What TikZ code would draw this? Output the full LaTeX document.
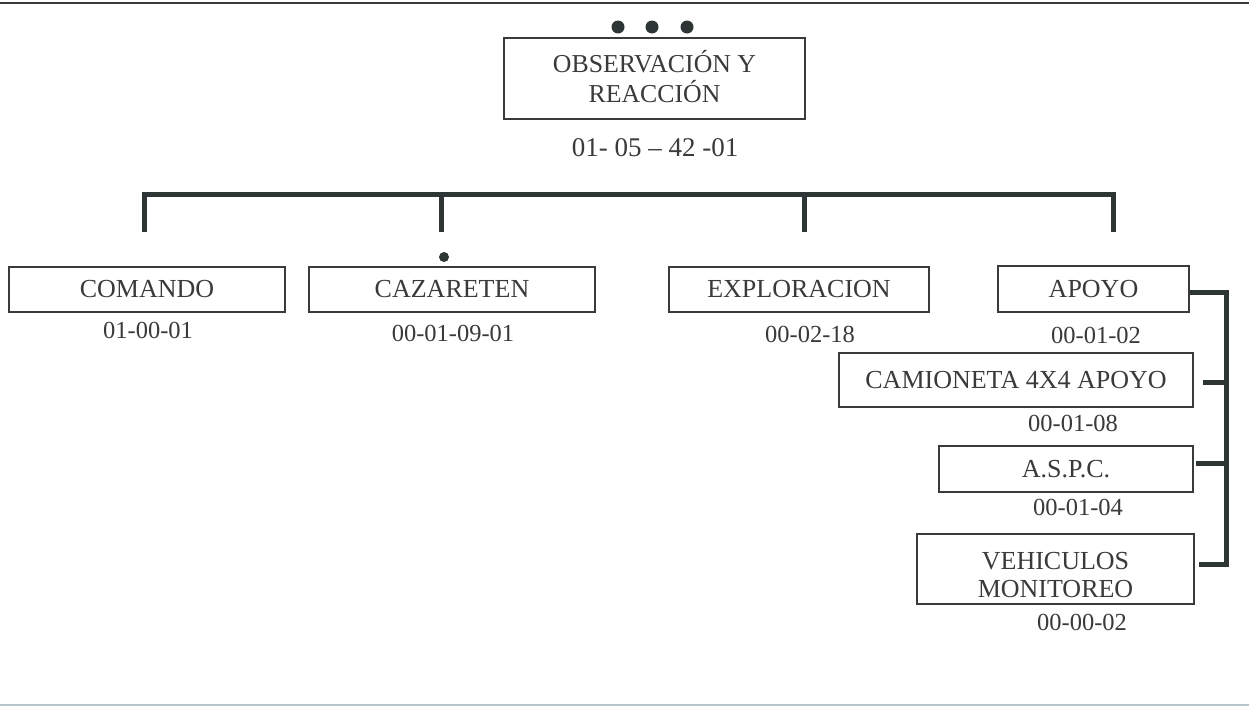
\documentclass[tikz,border=0pt]{standalone}
\usepackage{fontspec}
\setmainfont{Liberation Serif}
\definecolor{ink}{HTML}{3A3A3A}
\definecolor{linec}{HTML}{2E3535}
\definecolor{bottomc}{HTML}{B8C4CC}
\begin{document}
\begin{tikzpicture}[x=1pt,y=-1pt,
  box/.style={draw=ink,line width=1.4pt,inner sep=0pt,align=center,text=ink,font=\fontsize{26}{27}\selectfont},
  code/.style={inner sep=0pt,text=ink,font=\fontsize{24.5}{28}\selectfont},
  bus/.style={draw=linec,line width=5pt},
  dot/.style={fill=linec,draw=none}]
\useasboundingbox (0,0) rectangle (1249,707);
\fill[white] (0,0) rectangle (1249,707);
\draw[ink,line width=2pt] (0,3) -- (1249,3);
\draw[bottomc,line width=2pt] (0,705) -- (1249,705);
% top
\node[box,minimum width=301pt,minimum height=81pt,font=\fontsize{25.8}{26.5}\selectfont] (obs) at (654.5,78.5) {\raisebox{-1.5pt}[\height][\depth]{\begin{tabular}{@{}c@{}}OBSERVACIÓN Y\\REACCIÓN\end{tabular}}};
\node[code,font=\fontsize{27}{28}\selectfont] (obsc) at (655,148) {01- 05 – 42 -01};
\fill[dot] (618,27) circle (6.5pt);
\fill[dot] (652,27) circle (6.5pt);
\fill[dot] (687,27) circle (6.5pt);
% children
\node[box,minimum width=276pt,minimum height=45pt] (com) at (147,289.5) {COMANDO};
\node[code] (comc) at (148,330) {01-00-01};
\node[box,minimum width=286pt,minimum height=45pt] (caz) at (452,289.5) {CAZARETEN};
\node[code] (cazc) at (453,333) {00-01-09-01};
\node[box,minimum width=260pt,minimum height=45pt] (exp) at (799,289.5) {EXPLORACION};
\node[code] (expc) at (810,334) {00-02-18};
\node[box,minimum width=191pt,minimum height=46pt] (apo) at (1093.5,289) {APOYO};
\node[code] (apoc) at (1096,335) {00-01-02};
\node[box,minimum width=354pt,minimum height=54pt] (cam) at (1016,380) {CAMIONETA 4X4 APOYO};
\node[code] (camc) at (1073,423) {00-01-08};
\node[box,minimum width=254pt,minimum height=46pt] (asp) at (1066,469) {A.S.P.C.};
\node[code] (aspc) at (1078,507) {00-01-04};
\node[box,minimum width=277pt,minimum height=70pt,font=\fontsize{26}{28.5}\selectfont] (veh) at (1055.5,569) {\raisebox{-9pt}[\height][\depth]{\begin{tabular}{@{}c@{}}VEHICULOS\\MONITOREO\end{tabular}}};
\node[code] (vehc) at (1082,622) {00-00-02};
\fill[dot] (444,257) circle (5pt);
% bus
\coordinate (d1) at (144,232);
\coordinate (d2) at (441.5,232);
\coordinate (d3) at (804,232);
\coordinate (d4) at (1113,232);
\coordinate (b1) at (144,194);
\coordinate (b4) at (1113,194);
\draw[bus] (d1) -- (b1) -- (b4) -- (d4);
\draw[bus] (d2) -- (d2 |- b1);
\draw[bus] (d3) -- (d3 |- b1);
% right bracket
\coordinate (r0) at (1226,292);
\coordinate (rv) at (1226,564);
\draw[bus] (apo.east |- r0) -- (r0) -- (rv) -- ([xshift=4pt]veh.east |- rv);
\draw[bus] (1226,382) -- ([xshift=9pt]cam.east |- 0,382);
\draw[bus] (1226,463) -- ([xshift=2pt]asp.east |- 0,463);
\end{tikzpicture}
\end{document}
